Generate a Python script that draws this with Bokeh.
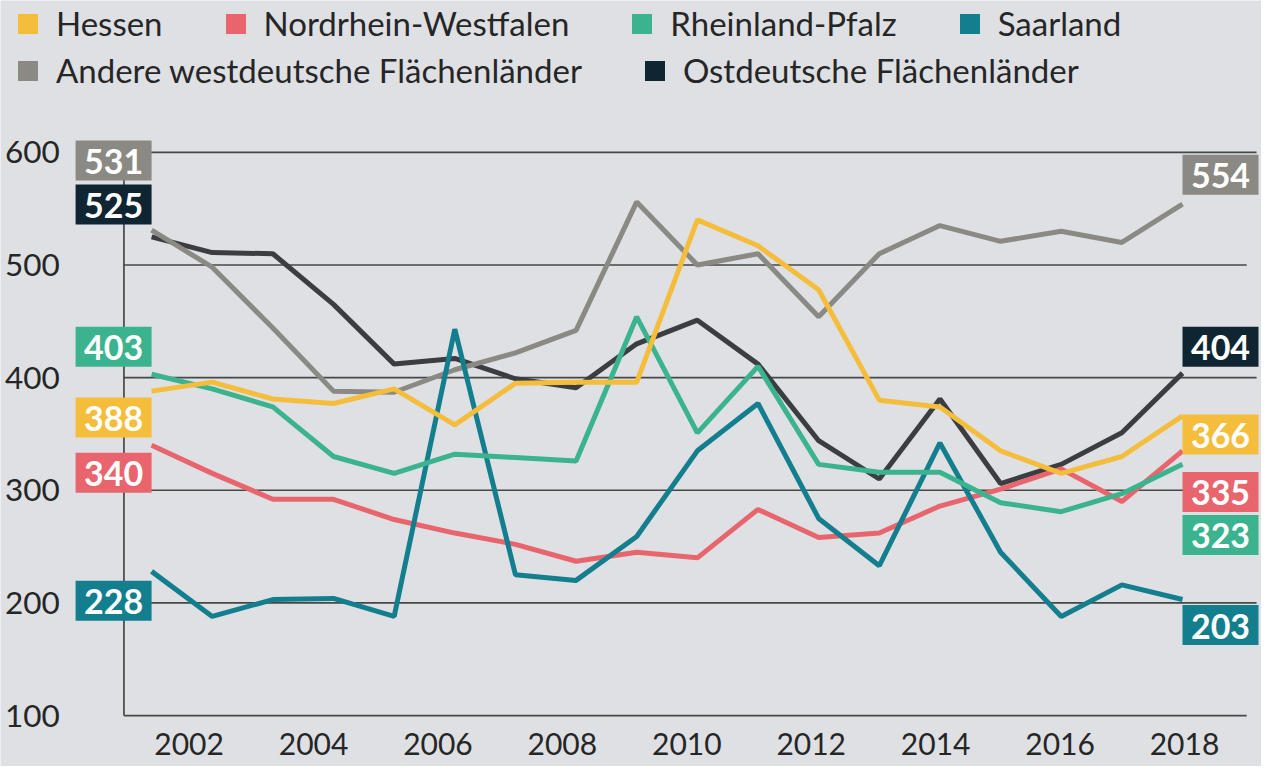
from bokeh.plotting import figure
from bokeh.models import Range1d, Legend, LegendItem
from bokeh.core.properties import value
from bokeh.embed import file_html
from bokeh.resources import INLINE

# ---------------- data ----------------
years = list(range(2001, 2019))
hessen = [388, 396, 381, 377, 390, 358, 395, 396, 396, 540, 517, 478, 380, 374, 335, 315, 330, 366]
nrw = [340, 315, 292, 292, 274, 262, 252, 237, 245, 240, 283, 258, 262, 286, 301, 319, 290, 335]
rlp = [403, 390, 374, 330, 315, 332, 329, 326, 454, 351, 410, 323, 316, 316, 289, 281, 297, 323]
saar = [228, 188, 203, 204, 188, 443, 225, 220, 259, 335, 377, 275, 233, 342, 245, 188, 216, 203]
west = [531, 498, 444, 388, 387, 407, 422, 442, 556, 500, 510, 454, 510, 535, 521, 530, 520, 554]
ost = [525, 511, 510, 465, 412, 417, 399, 391, 430, 451, 412, 344, 310, 381, 306, 323, 351, 404]

names = ["Hessen", "Nordrhein-Westfalen", "Rheinland-Pfalz", "Saarland",
         "Andere westdeutsche Flächenländer", "Ostdeutsche Flächenländer"]
x_tick_years = [2002, 2004, 2006, 2008, 2010, 2012, 2014, 2016, 2018]
y_ticks = [100, 200, 300, 400, 500, 600]

series = {
    "Hessen": hessen,
    "Nordrhein-Westfalen": nrw,
    "Rheinland-Pfalz": rlp,
    "Saarland": saar,
    "Andere westdeutsche Flächenländer": west,
    "Ostdeutsche Flächenländer": ost,
}

# ---------------- styles ----------------
FONT = "Lato"
BG = "#DEE0E4"
GRID = "#474747"
TXT = "#262626"
style = {
    "Hessen": dict(line="#F5BD3C", box="#F5BD3C", dy=(27, 19)),
    "Nordrhein-Westfalen": dict(line="#E8656D", box="#E8656D", dy=(28, 42)),
    "Rheinland-Pfalz": dict(line="#3CB38F", box="#3CB38F", dy=(-28, 72)),
    "Saarland": dict(line="#137E8D", box="#137E8D", dy=(30, 26)),
    "Andere westdeutsche Flächenländer": dict(line="#8B8983", box="#8B8983", dy=(-71, -30)),
    "Ostdeutsche Flächenländer": dict(line="#3B3E41", box="#0F2632", dy=(-33, -27)),
}
draw_order = ["Ostdeutsche Flächenländer", "Andere westdeutsche Flächenländer",
              "Nordrhein-Westfalen", "Saarland", "Rheinland-Pfalz", "Hessen"]

# ---------------- layout (reference pixels scaled into the figure) ----------------
W, H = 1261, 766
SX, SY = W / 1277, H / 782


def fx(rx):          # reference x px -> frame px from left
    return rx * SX


def fup(ry):         # reference y px -> frame px from bottom
    return H - ry * SY


ppx = (fx(1197) - fx(153)) / (years[-1] - years[0])
X0 = years[0] - fx(153) / ppx
X1 = X0 + W / ppx
ppy = (fup(155) - fup(730)) / (y_ticks[-1] - y_ticks[0])
Y0 = y_ticks[0] - fup(730) / ppy
Y1 = Y0 + H / ppy


def dx(rx):
    return X0 + fx(rx) / ppx


def dy(ry):
    return Y0 + fup(ry) / ppy


# year labels use the reference's own (slightly different) spacing
lppx = 63 * SX
LX0 = x_tick_years[0] - fx(191) / lppx
LX1 = LX0 + W / lppx

p = figure(frame_width=W, frame_height=H,
           x_range=Range1d(X0, X1), y_range=Range1d(Y0, Y1),
           x_axis_location=None, y_axis_location=None,
           toolbar_location=None, output_backend="svg",
           min_border_left=0, min_border_right=0, min_border_top=0, min_border_bottom=0)
p.background_fill_color = BG
p.border_fill_color = BG
p.outline_line_color = None
p.grid.visible = False
p.extra_x_ranges = {"lbl": Range1d(LX0, LX1)}

# grid lines and left axis line
grid_end = [dx(1262), dx(1272), dx(1272), dx(1272), dx(1262), dx(1272)]
p.segment(x0=[dx(125)] * len(y_ticks), x1=grid_end, y0=y_ticks, y1=y_ticks,
          line_color=GRID, line_width=1.7)
p.segment(x0=[dx(125)], x1=[dx(125)], y0=[y_ticks[0]], y1=[y_ticks[-1]],
          line_color=GRID, line_width=1.7)

# tick labels
p.text(x=[dx(60)] * len(y_ticks), y=y_ticks, text=[str(t) for t in y_ticks],
       text_align="right", text_baseline="middle", text_color=TXT,
       text_font=value(FONT), text_font_size="31.5px")
p.text(x=x_tick_years, y=[dy(759)] * len(x_tick_years), text=[str(t) for t in x_tick_years],
       x_range_name="lbl", text_align="center", text_baseline="middle", text_color=TXT,
       text_font=value(FONT), text_font_size="30px")

# lines
for n in draw_order:
    p.line(years, series[n], line_color=style[n]["line"], line_width=5)

# end labels: coloured boxes with white bold numbers
BOXW, BOXH = 76, 40
for n in names:
    v = series[n]
    st = style[n]
    for xi, vi, off, side in ((years[0], v[0], st["dy"][0], -1), (years[-1], v[-1], st["dy"][1], 1)):
        cx = xi + side * (BOXW / 2) / ppx
        cy = vi - off * SY / ppy
        p.rect(x=[cx], y=[cy], width=BOXW, height=BOXH, width_units="screen",
               height_units="screen", fill_color=st["box"], line_color=None)
        p.text(x=[cx], y=[cy], text=[str(vi)], text_align="center", text_baseline="middle",
               y_offset=1, text_color="white", text_font=value(FONT),
               text_font_style="bold", text_font_size="34px")

# legend: zero-width bars carry the square swatches
items = []
for n in names:
    r = p.vbar(x=years, top=series[n], bottom=series[n], width=0,
               fill_color=style[n]["box"], line_color=None)
    items.append(LegendItem(label=n, renderers=[r]))


def make_legend(its, ry_center):
    return Legend(items=its, orientation="horizontal",
                  location=(round(fx(15)), round(fup(ry_center) - 19)),
                  glyph_width=25, glyph_height=25, label_standoff=16, spacing=60,
                  padding=0, margin=0, border_line_color=None, background_fill_alpha=0,
                  label_text_font=FONT, label_text_font_size="33px", label_text_color=TXT)


p.add_layout(make_legend(items[:4], 24), "center")
p.add_layout(make_legend(items[4:], 72), "center")

open("out.html", "w").write(file_html(p, INLINE))
